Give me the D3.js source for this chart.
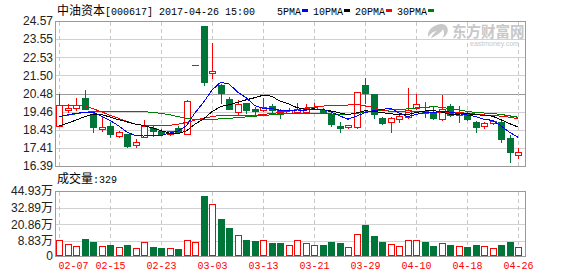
<!DOCTYPE html>
<html><head><meta charset="utf-8">
<script src="https://cdn.jsdelivr.net/npm/d3@7"></script>
<style>body{margin:0;background:#fff}svg{display:block}text{white-space:pre}</style>
</head><body>
<svg id="c" width="578" height="276"></svg>
<script>
const dates=['02-07','02-08','02-09','02-10','02-13','02-14','02-15','02-16','02-17','02-20','02-21','02-22','02-23','02-24','02-27','02-28','03-01','03-02','03-03','03-06','03-07','03-08','03-09','03-10','03-13','03-14','03-15','03-16','03-17','03-20','03-21','03-22','03-23','03-24','03-27','03-28','03-29','03-30','03-31','04-05','04-06','04-07','04-10','04-11','04-12','04-13','04-14','04-17','04-18','04-19','04-20','04-21','04-24','04-25','04-26'];
const open =[18.66,19.58,19.69,20.25,19.27,18.46,18.65,18.08,18.20,17.60,18.03,18.56,18.36,18.17,18.56,18.20,22.08,24.29,21.62,20.96,20.15,19.45,19.93,19.61,19.55,19.78,19.55,19.40,19.45,19.45,19.59,19.55,19.31,18.65,18.57,18.57,20.96,20.44,19.12,18.86,19.02,19.18,19.65,19.51,19.42,19.02,19.78,19.27,19.31,18.89,18.65,18.83,18.89,17.95,17.01];
const high =[20.45,19.87,20.20,20.68,19.38,19.15,18.87,18.36,18.22,17.93,19.00,18.70,18.48,18.39,18.65,20.11,22.08,24.29,23.31,21.02,20.27,20.11,19.94,19.74,20.21,19.87,19.61,19.65,19.93,19.89,19.93,19.66,19.38,18.86,18.73,20.56,21.37,20.45,19.15,19.13,19.24,20.79,20.44,19.98,19.77,20.40,19.89,19.77,19.51,18.93,18.90,18.96,18.93,18.14,17.42];
const low  =[18.65,19.44,19.55,19.58,18.28,18.39,18.00,18.05,17.49,17.46,18.00,18.08,18.14,18.14,18.25,18.17,22.08,20.96,21.34,19.96,19.58,19.32,19.40,19.21,19.49,19.45,19.08,19.38,19.44,19.44,19.58,19.38,18.66,18.33,18.56,18.56,19.93,19.08,18.76,18.33,18.89,19.10,19.61,19.14,19.04,19.01,19.21,18.89,18.98,18.33,18.52,18.76,17.76,16.63,16.82];
const close=[19.83,19.68,19.81,19.61,18.59,18.61,18.17,18.33,17.52,17.74,18.62,18.39,18.20,18.34,18.28,20.07,22.08,21.15,21.75,20.49,19.61,19.87,19.55,19.51,19.70,19.55,19.36,19.55,19.59,19.65,19.74,19.45,18.76,18.52,18.70,20.55,20.49,19.31,18.83,19.08,19.21,19.55,19.87,19.36,19.08,19.59,19.27,19.40,19.02,18.61,18.83,18.93,17.91,17.20,17.16];
const volume=[9.55,7.06,5.71,10.27,8.42,5.71,6.48,5.12,6.48,4.53,8.07,5.30,4.71,4.53,4.12,9.34,8.24,41.32,35.54,24.71,18.22,12.95,9.34,8.83,9.34,7.65,7.65,6.30,9.34,7.48,6.30,6.30,8.24,7.65,5.12,13.67,20.38,12.44,8.24,6.89,5.71,9.55,9.55,8.24,5.89,7.65,6.48,5.71,5.30,6.48,5.71,4.53,6.48,8.24,5.30];
const ma5 =[19.17,19.27,19.36,19.42,19.42,19.20,18.96,18.66,18.30,18.10,18.08,18.12,18.10,18.25,18.37,18.66,19.39,19.98,20.67,21.11,21.02,20.57,20.25,19.81,19.65,19.64,19.53,19.53,19.55,19.54,19.58,19.60,19.44,19.22,19.03,19.20,19.40,19.51,19.58,19.65,19.38,19.18,19.30,19.40,19.40,19.48,19.43,19.34,19.27,19.18,19.03,18.96,18.66,18.30,18.01];
const ma10=[18.66,18.80,18.98,19.17,19.32,19.30,19.15,19.00,18.88,18.75,18.67,18.54,18.38,18.25,18.22,18.37,18.76,19.04,19.46,19.74,19.84,19.98,20.12,20.24,20.38,20.33,20.05,19.89,19.68,19.59,19.61,19.57,19.49,19.39,19.29,19.39,19.50,19.48,19.40,19.34,19.29,19.29,19.41,19.49,19.53,19.43,19.31,19.32,19.34,19.29,19.25,19.20,19.00,18.78,18.59];
const ma20=[19.79,19.80,19.80,19.78,19.62,19.45,19.25,19.08,18.90,18.75,18.68,18.66,18.66,18.68,18.75,18.85,18.98,19.08,19.17,19.26,19.25,19.26,19.25,19.24,19.30,19.35,19.41,19.47,19.57,19.67,19.72,19.77,19.80,19.81,19.83,19.86,19.78,19.69,19.54,19.47,19.45,19.43,19.45,19.44,19.41,19.41,19.40,19.40,19.37,19.32,19.27,19.25,19.20,19.14,19.06];
const ma30=[19.17,19.25,19.33,19.42,19.46,19.47,19.47,19.47,19.47,19.46,19.45,19.42,19.36,19.28,19.18,19.08,19.02,19.00,19.02,19.05,19.08,19.12,19.16,19.20,19.24,19.28,19.31,19.34,19.36,19.37,19.37,19.36,19.33,19.29,19.30,19.36,19.44,19.47,19.51,19.56,19.58,19.61,19.67,19.70,19.73,19.71,19.62,19.56,19.47,19.41,19.38,19.35,19.30,19.22,19.14];
const priceTicks=[16.39,17.41,18.43,19.46,20.48,21.50,22.53,23.55,24.57];
const volTicks=[0,8.83,20.86,32.89,44.93];
const dateTicks=['02-07','02-15','02-23','03-03','03-13','03-21','03-29','04-10','04-18','04-26'];
const maNames=['5PMA','10PMA','20PMA','30PMA'];
const maColors=['#0000ff','#000000','#ff0000','#008000'];

const RED='#ff0000', GREEN='#00753a';
const svg=d3.select('#c');
const L=55.5,R=525.5;
const x=d3.scalePoint().domain(dates).range([59,518]);
const y=d3.scaleLinear().domain([16.39,24.57]).range([166,21]);
const yv=d3.scaleLinear().domain([0,8.83,44.93]).range([256,241,191]);
const cr=v=>Math.round(v)+0.5;

// grids
const grid=svg.append('g').attr('shape-rendering','crispEdges');
grid.selectAll('.hp').data(priceTicks).join('line')
  .attr('x1',L).attr('x2',R).attr('y1',d=>cr(y(d))).attr('y2',d=>cr(y(d)))
  .attr('stroke',(d,i)=>(i===4)?'#9a9a9a':'#d2d2d2');
grid.selectAll('.hv').data(volTicks).join('line')
  .attr('x1',L).attr('x2',R).attr('y1',d=>cr(yv(d))).attr('y2',d=>cr(yv(d)))
  .attr('stroke','#d2d2d2');
dateTicks.forEach(d=>{
  const xx=cr(x(d));
  [[y(24.57),y(16.39)],[yv(44.93),yv(0)]].forEach(([a,b])=>{
    grid.append('line').attr('x1',xx).attr('x2',xx).attr('y1',cr(a)).attr('y2',cr(b))
      .attr('stroke','#c8c8c8').attr('stroke-dasharray','4,3');
  });
});
// frames
grid.append('rect').attr('x',L).attr('y',cr(y(24.57))).attr('width',R-L).attr('height',cr(y(16.39))-cr(y(24.57)))
  .attr('fill','none').attr('stroke','#9a9a9a');
grid.append('rect').attr('x',L).attr('y',cr(yv(44.93))).attr('width',R-L).attr('height',cr(yv(0))-cr(yv(44.93)))
  .attr('fill','none').attr('stroke','#9a9a9a');

// watermark
const wm=svg.append('g').attr('fill','#c8c8c8');
wm.append('path').attr('d','M441,24 C433,25 427,30 428,37 C431,33 434,31 437,31 C434,33 432,35 431,38 C436,36 441,33 443,29 C445,33 444,36 442,38 C447,36 449,31 447,27 C446,25 444,24 441,24 Z');
wm.append('text').attr('x',452).attr('y',37).attr('font-family','"Noto Sans CJK SC"').attr('font-weight','bold').attr('font-size',14.5).text('东方财富网');
wm.append('text').attr('x',470).attr('y',46).attr('font-family','"Liberation Sans"').attr('font-size',7).text('eastmoney.com');

// axes
const axP=svg.append('g').attr('transform','translate(53,0)')
  .call(d3.axisLeft(y).tickValues(priceTicks).tickFormat(d=>d.toFixed(2)).tickSize(0).tickPadding(0));
axP.select('.domain').remove();
axP.selectAll('text').attr('font-family','"Liberation Sans",Arial').attr('font-size',12).attr('fill','#222');

const axV=svg.append('g').attr('transform','translate(53,0)')
  .call(d3.axisLeft(yv).tickValues(volTicks).tickFormat(d=>d===0?'0':d.toFixed(2)+'万').tickSize(0).tickPadding(0));
axV.select('.domain').remove();
axV.selectAll('text').attr('font-family','"Liberation Sans","Noto Sans CJK SC"').attr('font-size',12).attr('fill','#222');

const axX=svg.append('g').attr('transform','translate(0,258)')
  .call(d3.axisBottom(x).tickValues(dateTicks).tickSize(0).tickPadding(4));
axX.select('.domain').remove();
axX.selectAll('text').attr('font-family','"Liberation Mono"').attr('font-size',10).attr('fill',RED)
  .attr('dx',(d,i)=>i===0?14:0);

// candles
const idx=d3.range(dates.length);
const cg=svg.append('g').attr('shape-rendering','crispEdges');
idx.forEach(i=>{
  const cx=cr(x(dates[i]));
  const o=y(open[i]),c=y(close[i]),h=y(high[i]),l=y(low[i]);
  const up=close[i]>=open[i];
  if(open[i]===close[i] && high[i]===low[i]){
    cg.append('line').attr('x1',cx-3.5).attr('x2',cx+3.5).attr('y1',cr(o)).attr('y2',cr(o)).attr('stroke',RED);
    return;
  }
  if(up){
    const top=Math.round(c), bot=Math.max(Math.round(o),top+2);
    cg.append('line').attr('x1',cx).attr('x2',cx).attr('y1',Math.round(h)).attr('y2',top).attr('stroke',RED);
    cg.append('line').attr('x1',cx).attr('x2',cx).attr('y1',bot).attr('y2',Math.round(l)+1).attr('stroke',RED);
    cg.append('rect').attr('x',cx-3).attr('y',top+0.5).attr('width',6).attr('height',bot-top)
      .attr('fill','#fff').attr('stroke',RED);
  } else {
    const top=Math.round(o), bot=Math.max(Math.round(c),top+2);
    cg.append('line').attr('x1',cx).attr('x2',cx).attr('y1',Math.round(h)).attr('y2',Math.round(l)+1).attr('stroke',GREEN);
    cg.append('rect').attr('x',cx-3.5).attr('y',top).attr('width',7).attr('height',bot-top+1).attr('fill',GREEN);
  }
});

// moving averages
const mas=[ma5,ma10,ma20,ma30];
const lineGen=d3.line().x((d,i)=>x(dates[i])).y(d=>y(d));
[3,2,1,0].forEach(k=>{
  svg.append('path').attr('d',lineGen(mas[k])).attr('fill','none').attr('stroke',maColors[k])
    .attr('stroke-width',1).attr('shape-rendering','crispEdges');
});

// volume bars
const vg=svg.append('g').attr('shape-rendering','crispEdges');
idx.forEach(i=>{
  const cx=cr(x(dates[i]));
  const top=Math.round(yv(volume[i])), base=Math.round(yv(0));
  const up=close[i]>=open[i];
  if(up){
    vg.append('rect').attr('x',cx-3).attr('y',top+0.5).attr('width',6).attr('height',base-top-1)
      .attr('fill','#fff').attr('stroke',RED);
  } else {
    vg.append('rect').attr('x',cx-3.5).attr('y',top).attr('width',7).attr('height',base-top).attr('fill',GREEN);
  }
});

// title
const t=svg.append('text').attr('x',57).attr('y',15).attr('fill','#000');
t.append('tspan').attr('font-family','"Noto Sans CJK SC"').attr('font-size',12).text('中油资本');
t.append('tspan').attr('font-family','"Liberation Mono"').attr('font-size',10).text('[000617] 2017-04-26 15:00');

// legend
let lx=277;
maNames.forEach((n,k)=>{
  svg.append('text').attr('x',lx).attr('y',15).attr('font-family','"Liberation Mono"').attr('font-size',10).attr('fill','#000').text(n);
  const w=n.length*6;
  svg.append('rect').attr('x',lx+w+1).attr('y',9).attr('width',6).attr('height',3).attr('fill',maColors[k]);
  lx+=w+1+6+5;
});

// volume label
const vt=svg.append('text').attr('x',57).attr('y',183).attr('fill','#000');
vt.append('tspan').attr('font-family','"Noto Sans CJK SC"').attr('font-size',12).text('成交量');
vt.append('tspan').attr('font-family','"Liberation Mono"').attr('font-size',10).text(':329');
</script>
</body></html>
